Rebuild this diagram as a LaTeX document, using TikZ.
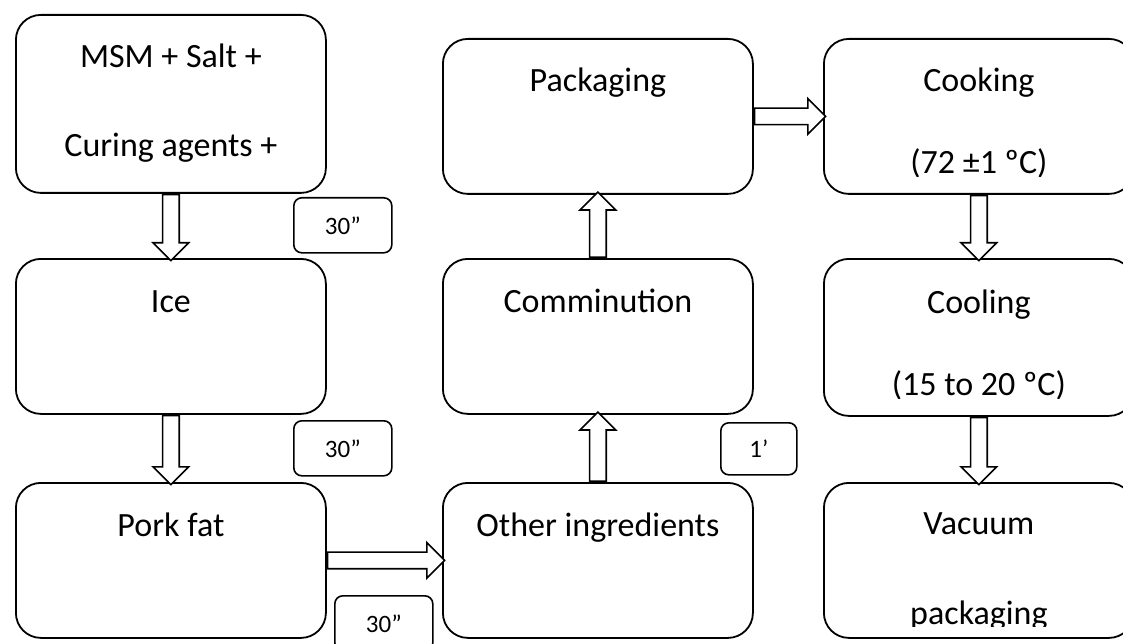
\documentclass[tikz,border=0pt]{standalone}
\usepackage{fontspec}
\setmainfont{Carlito}
\usetikzlibrary{positioning,shapes.arrows,calc}
\tikzset{
  step-box/.style={draw,line width=1.8pt,rounded corners=25pt,anchor=north west,
    minimum width=310pt,minimum height=155pt,inner sep=0pt},
  step-text/.style={anchor=base,align=center,inner sep=0pt,
    font=\fontsize{34}{85}\selectfont},
  time-box/.style={draw,line width=1.6pt,rounded corners=8pt,anchor=north west,
    minimum width=98pt,minimum height=55pt,inner sep=0pt,
    font=\fontsize{25}{28}\selectfont},
  arrow-block/.style={single arrow,draw,line width=1.6pt,fill=white,anchor=tail,
    text height=15pt,text depth=0pt,minimum width=0pt,
    single arrow head extend=9.5pt,inner sep=0pt},
}
\begin{document}
\begin{tikzpicture}[x=1pt,y=-1pt]
  \clip (0,0) rectangle (1123,644);
  % process steps
  \node[step-box,minimum height=178pt] (msm)   at (15,14)   {};
  \node[step-box]                      (ice)   at (15,258)  {};
  \node[step-box]                      (pork)  at (15,482)  {};
  \node[step-box]                      (other) at (442,482) {};
  \node[step-box]                      (comm)  at (442,258) {};
  \node[step-box]                      (pack)  at (442,38)  {};
  \node[step-box]                      (cook)  at (823,38)  {};
  \node[step-box,minimum height=157pt] (cool)  at (823,258) {};
  \node[step-box]                      (vac)   at (823,482) {};
  % texts (base = last line)
  \node[step-text,font=\fontsize{34}{89}\selectfont] (msm-t) at ([yshift=-143pt]msm.north) {MSM + Salt +\\Curing agents +};
  \node[step-text] (ice-t)   at ([yshift=-54pt]ice.north)   {Ice};
  \node[step-text] (pork-t)  at ([yshift=-54pt]pork.north)  {Pork fat};
  \node[step-text] (other-t) at ([yshift=-54pt]other.north) {Other ingredients};
  \node[step-text] (comm-t)  at ([yshift=-54pt]comm.north)  {Comminution};
  \node[step-text] (pack-t)  at ([yshift=-54pt]pack.north)  {Packaging};
  \begin{scope}
    \clip (cook.north west) rectangle ([yshift=18pt]cook.south east);
    \node[step-text,font=\fontsize{34}{82}\selectfont] (cook-t) at ([yshift=-136pt]cook.north) {Cooking\\(72 ±1 ºC)};
  \end{scope}
  \begin{scope}
    \clip (cool.north west) rectangle ([yshift=18pt]cool.south east);
    \node[step-text,font=\fontsize{34}{82}\selectfont] (cool-t) at ([yshift=-137pt]cool.north) {Cooling\\(15 to 20 ºC)};
  \end{scope}
  \begin{scope}
    \clip (vac.north west) rectangle ([yshift=12pt]vac.south east);
    \node[step-text,font=\fontsize{34}{90}\selectfont] (vac-t) at ([yshift=-142pt]vac.north) {Vacuum\\packaging};
  \end{scope}
  % mixing times
  \node[time-box]                      (t1) at (293,197) {30”};
  \node[time-box]                      (t2) at (293,420) {30”};
  \node[time-box]                      (t3) at (334,595) {30”};
  \node[time-box,minimum width=76pt,minimum height=52pt] (t4) at (720,422) {1’};
  % flow
  \node[arrow-block,rotate=-90,minimum height=66pt]  (a1) at (msm.south)  {};
  \node[arrow-block,rotate=-90,minimum height=69pt]  (a2) at (ice.south)  {};
  \node[arrow-block,minimum height=117pt]            (a3) at (pork.east)  {};
  \node[arrow-block,rotate=90,minimum height=69pt]   (a4) at (other.north) {};
  \node[arrow-block,rotate=90,minimum height=65pt]   (a5) at (comm.north) {};
  \node[arrow-block,minimum height=71pt]             (a6) at (pack.east)  {};
  \node[arrow-block,rotate=-90,minimum height=65pt]  (a7) at (cook.south) {};
  \node[arrow-block,rotate=-90,minimum height=67pt]  (a8) at (cool.south) {};
\end{tikzpicture}
\end{document}
